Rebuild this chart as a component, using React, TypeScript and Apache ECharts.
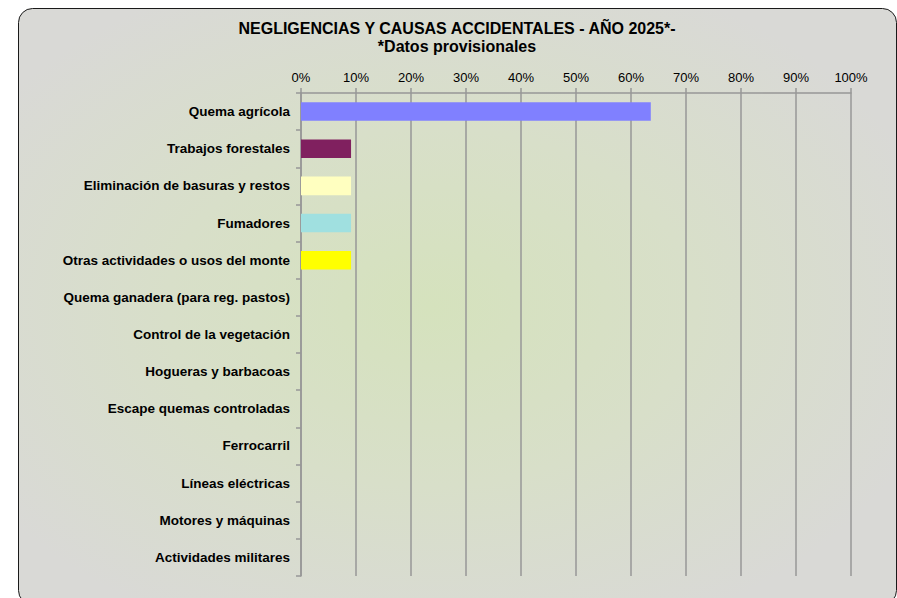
import React, { useEffect, useRef } from "react";
import * as echarts from "echarts";

const TITLE = "NEGLIGENCIAS Y CAUSAS ACCIDENTALES - AÑO 2025*-";
const SUBTITLE = "*Datos provisionales";

const categories = [
  "Quema agrícola",
  "Trabajos forestales",
  "Eliminación de basuras y restos",
  "Fumadores",
  "Otras actividades o usos del monte",
  "Quema ganadera (para reg. pastos)",
  "Control de la vegetación",
  "Hogueras y barbacoas",
  "Escape quemas controladas",
  "Ferrocarril",
  "Líneas eléctricas",
  "Motores y máquinas",
  "Actividades militares",
];

// percentage of fires per cause
const percentages = [63.6, 9.1, 9.1, 9.1, 9.1, 0, 0, 0, 0, 0, 0, 0, 0];

const barColors = [
  "#8080ff",
  "#80205f",
  "#ffffc0",
  "#a0e0e0",
  "#ffff00",
  "#8080ff",
  "#8080ff",
  "#8080ff",
  "#8080ff",
  "#8080ff",
  "#8080ff",
  "#8080ff",
  "#8080ff",
];

const xTicks = [0, 10, 20, 30, 40, 50, 60, 70, 80, 90, 100];

export default function App() {
  const ref = useRef<HTMLDivElement>(null);

  useEffect(() => {
    if (!ref.current) return;
    const chart = echarts.init(ref.current, undefined, { renderer: "svg" });
    const font = "'Liberation Sans', Arial, sans-serif";
    chart.setOption({
      animation: false,
      backgroundColor: "#ffffff",
      graphic: [
        {
          type: "rect",
          z: -10,
          shape: { x: 18.5, y: 8.5, width: 878, height: 596, r: 14 },
          style: {
            fill: new echarts.graphic.RadialGradient(0.47, 0.5, 0.6, [
              { offset: 0, color: "#d5e2bd" },
              { offset: 0.5, color: "#d8dfc9" },
              { offset: 1, color: "#d9d9d6" },
            ]),
            stroke: "#1a1a1a",
            lineWidth: 1,
          },
        },
        {
          type: "text",
          x: 457,
          y: 28,
          style: {
            text: TITLE,
            fontFamily: font,
            fontWeight: "bold",
            fontSize: 16,
            fill: "#000",
            align: "center",
            verticalAlign: "middle",
          },
        },
        {
          type: "text",
          x: 457,
          y: 46,
          style: {
            text: SUBTITLE,
            fontFamily: font,
            fontWeight: "bold",
            fontSize: 16,
            fill: "#000",
            align: "center",
            verticalAlign: "middle",
          },
        },
      ],
      grid: { left: 301, right: 46, top: 93, bottom: 22, containLabel: false },
      xAxis: {
        type: "value",
        position: "top",
        min: 0,
        max: 100,
        interval: 10,
        axisLine: { show: true, lineStyle: { color: "#979797", width: 1.5 } },
        axisTick: { show: true, length: 5, lineStyle: { color: "#979797", width: 1.5 } },
        splitLine: { show: true, lineStyle: { color: "#979797", width: 1.5 } },
        axisLabel: {
          formatter: (v: number) => (xTicks.includes(v) ? v + "%" : ""),
          color: "#000",
          fontFamily: font,
          fontSize: 13,
          margin: 9,
        },
      },
      yAxis: {
        type: "category",
        data: categories,
        inverse: true,
        axisLine: { show: true, lineStyle: { color: "#979797", width: 1.5 } },
        axisTick: { show: true, length: 5, lineStyle: { color: "#979797", width: 1.5 } },
        axisLabel: {
          color: "#000",
          fontFamily: font,
          fontWeight: "bold",
          fontSize: 13.5,
          margin: 11,
        },
      },
      series: [
        {
          type: "bar",
          data: percentages.map((v, i) => ({
            value: v,
            itemStyle: { color: barColors[i] },
          })),
          barWidth: "50%",
        },
      ],
    });
    return () => chart.dispose();
  }, []);

  return (
    <div
      ref={ref}
      style={{ position: "absolute", left: 0, top: 0, width: 897, height: 598 }}
    />
  );
}
